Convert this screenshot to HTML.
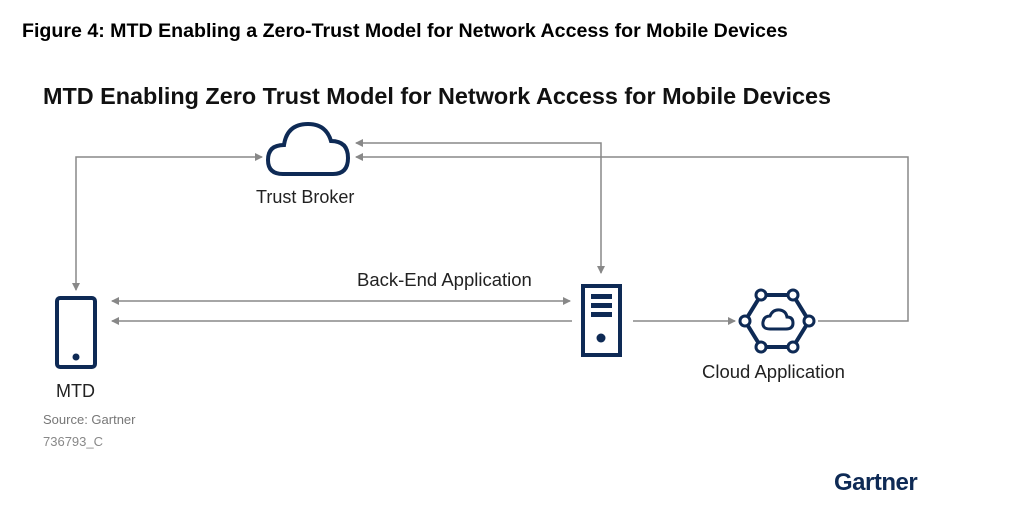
<!DOCTYPE html>
<html><head><meta charset="utf-8"><style>
body{margin:0;width:1024px;height:529px;background:#fff;overflow:hidden;position:relative;font-family:"Liberation Sans",sans-serif}
.t{position:absolute;white-space:nowrap}
</style></head><body>
<div class="t" style="left:22px;top:20px;font-size:19.6px;font-weight:bold;color:#000">Figure 4: MTD Enabling a Zero-Trust Model for Network Access for Mobile Devices</div>
<div class="t" style="left:43px;top:83px;font-size:23.4px;font-weight:bold;color:#111">MTD Enabling Zero Trust Model for Network Access for Mobile Devices</div>
<div class="t" style="left:256px;top:187px;font-size:18px;color:#222">Trust Broker</div>
<div class="t" style="left:357px;top:269px;font-size:18.5px;color:#222">Back-End Application</div>
<div class="t" style="left:702px;top:361px;font-size:18.5px;color:#222">Cloud Application</div>
<div class="t" style="left:56px;top:381px;font-size:18px;color:#222">MTD</div>
<div class="t" style="left:43px;top:412px;font-size:13px;color:#777">Source: Gartner</div>
<div class="t" style="left:43px;top:434px;font-size:13px;color:#888">736793_C</div>
<div class="t" style="left:834px;top:469px;font-size:24px;font-weight:bold;color:#0e2a55;letter-spacing:-0.5px">Gartner</div>
<svg width="1024" height="529" style="position:absolute;left:0;top:0">
<defs><marker id="a" markerWidth="8" markerHeight="8" refX="7" refY="4" orient="auto-start-reverse" markerUnits="userSpaceOnUse"><path d="M0,0 L8,4 L0,8z" fill="#888"/></marker></defs>
<g stroke="#888" stroke-width="1.5" fill="none">
<polyline points="262,157 76,157 76,290" marker-start="url(#a)" marker-end="url(#a)"/>
<polyline points="356,143 601,143 601,273" marker-start="url(#a)" marker-end="url(#a)"/>
<polyline points="356,157 908,157 908,321 818,321" marker-start="url(#a)"/>
<line x1="112" y1="301" x2="570" y2="301" marker-start="url(#a)" marker-end="url(#a)"/>
<line x1="112" y1="321" x2="572" y2="321" marker-start="url(#a)"/>
<line x1="633" y1="321" x2="735" y2="321" marker-end="url(#a)"/>
</g>
<g stroke="#0e2a55" fill="none" stroke-width="4">
<path d="M283,174 Q268,174 268,160 Q268,145 284,145 Q287,124 308,124 Q326,124 331,141 Q348,141 348,158 Q348,174 333,174 Z"/>
<rect x="57" y="298" width="38" height="69" rx="3"/>
<rect x="583" y="286" width="37" height="69"/>
<polygon points="761,295 793,295 809,321 793,347 761,347 745,321"/>
<path d="M770,329 Q762,329 763,322 Q764,316 770,316 Q773,309 780,310 Q786,311 787,317 Q793,317 793,323 Q793,329 786,329 Z" stroke-width="3"/>
</g>
<g fill="#0e2a55">
<circle cx="76" cy="357" r="3.5"/>
<rect x="591" y="294" width="21" height="5"/><rect x="591" y="303" width="21" height="5"/><rect x="591" y="312" width="21" height="5"/>
<circle cx="601" cy="338" r="4.5"/>
</g>
<g fill="#fff" stroke="#0e2a55" stroke-width="3">
<circle cx="761" cy="295" r="5"/><circle cx="793" cy="295" r="5"/><circle cx="809" cy="321" r="5"/>
<circle cx="793" cy="347" r="5"/><circle cx="761" cy="347" r="5"/><circle cx="745" cy="321" r="5"/>
</g>
</svg>
</body></html>
